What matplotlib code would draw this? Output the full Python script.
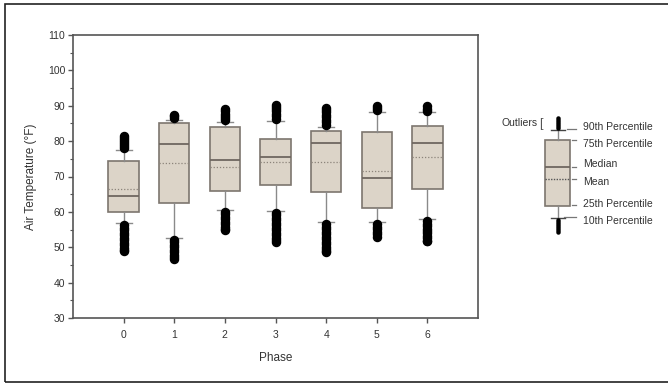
import matplotlib
matplotlib.use("Agg")
import matplotlib.pyplot as plt
from matplotlib.patches import Rectangle
from matplotlib.ticker import MultipleLocator

plt.rcParams['font.family'] = ['Liberation Sans', 'DejaVu Sans']

# ---------------- data ----------------
phases = [0, 1, 2, 3, 4, 5, 6]
p10 = [56.8, 52.7, 60.6, 60.3, 57.1, 57.1, 58.0]
p25 = [60.1, 62.5, 66.0, 67.7, 65.6, 61.0, 66.6]
median = [64.6, 79.3, 74.8, 75.4, 79.4, 69.7, 79.4]
mean = [66.4, 73.8, 72.6, 74.0, 74.2, 71.5, 75.4]
p75 = [74.4, 85.0, 83.9, 80.5, 82.9, 82.6, 84.3]
p90 = [77.5, 86.0, 85.5, 85.8, 84.1, 88.3, 88.1]

outliers_high = [
    [78.0, 78.6, 79.2, 79.8, 80.4, 81.0, 81.5],
    [86.6, 87.0, 87.4],
    [86.0, 86.6, 87.2, 87.8, 88.4, 89.2],
    [86.3, 87.0, 87.7, 88.4, 89.1, 89.7, 90.2],
    [84.6, 85.3, 86.0, 86.7, 87.4, 88.1, 88.8, 89.5],
    [88.7, 89.3, 89.9],
    [88.5, 89.2, 89.9],
]
outliers_low = [
    [56.2, 55.5, 54.8, 54.1, 53.4, 52.7, 52.0, 51.3, 50.6, 49.9, 49.3, 48.8],
    [52.1, 51.4, 50.7, 50.0, 49.3, 48.6, 47.9, 47.2, 46.7],
    [60.0, 59.3, 58.6, 57.9, 57.2, 56.5, 55.8, 55.2, 54.9],
    [59.7, 59.0, 58.3, 57.6, 56.9, 56.2, 55.5, 54.8, 54.1, 53.4, 52.7, 52.0, 51.4],
    [56.5, 55.8, 55.1, 54.4, 53.7, 53.0, 52.3, 51.6, 50.9, 50.2, 49.5, 48.8, 48.6],
    [56.5, 55.8, 55.1, 54.4, 53.7, 53.0],
    [57.4, 56.7, 56.0, 55.3, 54.6, 53.9, 53.2, 52.5, 51.9, 51.7],
]

y_ticks = [30, 40, 50, 60, 70, 80, 90, 100, 110]

# legend schematic values (arbitrary units)
leg_stats = dict(whislo=22, q1=34, med=73, mean=61, q3=100, whishi=110)
leg_out_high = [112, 114, 116, 118, 120, 122]
leg_out_low = [20, 18, 16, 14, 12, 10, 8]
leg_labels = ["90th Percentile", "75th Percentile", "Median", "Mean",
              "25th Percentile", "10th Percentile"]
leg_label_vals = [113, 96, 76, 58, 36, 19]
leg_dash_vals = [111, 100, 73, 61, 35, 23]

# ---------------- figure ----------------
W, H = 668, 386
fig = plt.figure(figsize=(W / 100, H / 100), dpi=100)

def px(x0, y0, x1, y1):
    return [x0 / W, 1 - y1 / H, (x1 - x0) / W, (y1 - y0) / H]

fill = '#dcd4c8'
edge = '#7d766e'
gray = '#8a8a8a'
dark = '#333333'

ax = fig.add_axes(px(73, 35, 478, 318))

stats = []
for i in range(len(phases)):
    stats.append(dict(whislo=p10[i], q1=p25[i], med=median[i], mean=mean[i],
                      q3=p75[i], whishi=p90[i],
                      fliers=outliers_high[i] + outliers_low[i]))

ax.bxp(stats, positions=phases, widths=0.6, capwidths=0.32,
       patch_artist=True, showmeans=True, meanline=True, showfliers=True,
       boxprops=dict(facecolor=fill, edgecolor=edge, linewidth=1.2),
       medianprops=dict(color='#6f6760', linewidth=1.3),
       meanprops=dict(color='#8c847a', linestyle=(0, (1, 1.5)), linewidth=0.9),
       whiskerprops=dict(color=gray, linewidth=1.0),
       capprops=dict(color=gray, linewidth=1.0),
       flierprops=dict(marker='o', markerfacecolor='black',
                       markeredgecolor='black', markersize=5.8))

ax.set_xlim(-1, 7)
ax.set_ylim(30, 110)
ax.set_xticks(phases)
ax.set_yticks(y_ticks)
ax.yaxis.set_minor_locator(MultipleLocator(5))
for s in ax.spines.values():
    s.set_color('#555555')
    s.set_linewidth(1.2)
ax.tick_params(axis='both', which='major', direction='out', length=3.5,
               width=1.0, colors='#555555', labelsize=7.5, labelcolor=dark, pad=2)
ax.tick_params(axis='x', which='major', pad=5)
ax.tick_params(axis='y', which='minor', direction='out', length=2,
               width=0.8, colors='#555555')
ax.set_ylabel('Air Temperature (°F)', fontsize=8.5, color=dark, labelpad=8)
ax.set_xlabel('Phase', fontsize=8.5, color=dark, labelpad=9)

# ---------------- legend schematic ----------------
lax = fig.add_axes(px(530, 110, 600, 240))
lax.set_xlim(0, 70)
lax.set_ylim(0, 130)
lax.axis('off')
lstat = dict(leg_stats)
lstat['fliers'] = leg_out_high + leg_out_low
lax.bxp([lstat], positions=[27.5], widths=25, capwidths=14,
        patch_artist=True, showmeans=True, meanline=True, showfliers=True,
        boxprops=dict(facecolor=fill, edgecolor=edge, linewidth=1.2),
        medianprops=dict(color='#6f6760', linewidth=1.3),
        meanprops=dict(color='#555555', linestyle=(0, (1, 1)), linewidth=1.0),
        whiskerprops=dict(color=gray, linewidth=1.0),
        capprops=dict(color='#444444', linewidth=1.0),
        flierprops=dict(marker='o', markerfacecolor='black',
                        markeredgecolor='black', markersize=2.2))
dash_x = [(37, 46), (42, 46), (42, 46), (42, 46), (42, 46), (34, 46)]
for lab, yv, dv, (xa, xb) in zip(leg_labels, leg_label_vals, leg_dash_vals, dash_x):
    lax.plot([xa, xb], [dv, dv], color='#777777', lw=0.9, clip_on=False)
    lax.text(53, yv, lab, fontsize=7.5, color=dark, ha='left', va='center',
             clip_on=False)
lax.text(8, 117, 'Outliers', fontsize=7.5, color=dark, ha='right', va='center')
lax.text(9, 116, '[', fontsize=9, color='#555555', ha='left', va='center')

# ---------------- outer frame ----------------
fig.patches.append(Rectangle((5 / W, 4 / H), 2.0, (H - 8) / H,
                             transform=fig.transFigure, fill=False,
                             edgecolor='#222222', linewidth=1.2, clip_on=False))

fig.savefig('out.png', dpi=100)
